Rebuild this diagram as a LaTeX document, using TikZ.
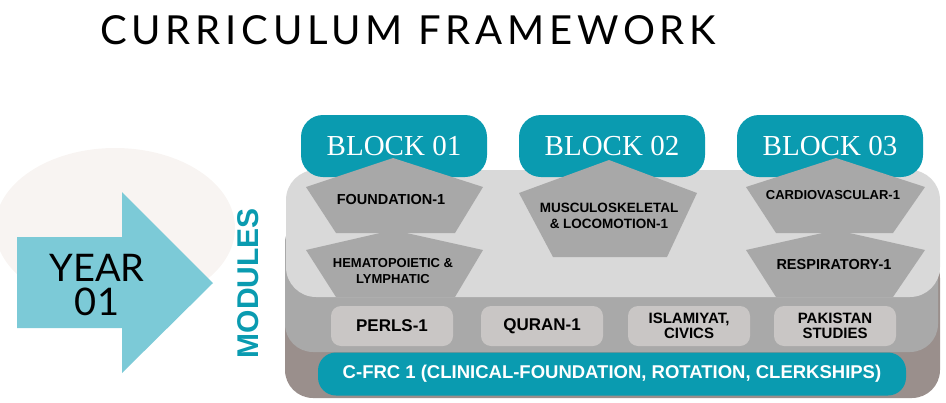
\documentclass[tikz,border=0pt]{standalone}
\usepackage{fontspec}
\setmainfont{Liberation Sans}
\newfontfamily\thinfont{Lato}
\newfontfamily\titlefont[LetterSpace=12]{Lato}
\newfontfamily\blockfont{Liberation Serif}
\usetikzlibrary{positioning}
\definecolor{teal1}{HTML}{0A9BB0}
\definecolor{arrowblue}{HTML}{7CCAD7}
\definecolor{lightgr}{HTML}{D9D9D9}
\definecolor{midgr}{HTML}{A9A9A9}
\definecolor{taupe}{HTML}{9A8F8C}
\definecolor{boxgr}{HTML}{C9C6C5}
\definecolor{pentgr}{HTML}{A8A8A8}
\definecolor{blush}{HTML}{F8F4F2}
\tikzset{
    block/.style={fill=teal1, rounded corners=22pt, minimum width=186pt, minimum height=62pt,
        text=white, font=\blockfont\fontsize{29}{29}\selectfont},
    subject/.style={fill=boxgr, rounded corners=10pt, minimum width=122pt, minimum height=40pt,
        align=center, inner sep=1pt, font=\bfseries\fontsize{17}{17}\selectfont},
    modlabel/.style={align=center, inner sep=1pt, font=\bfseries\fontsize{14.5}{16}\selectfont}
}
\begin{document}
\begin{tikzpicture}[x=1pt,y=-1pt]
\useasboundingbox (0,0) rectangle (946,402);

% title
\node (title) at (408,30) {\titlefont\fontsize{40}{40}\selectfont CURRICULUM FRAMEWORK};

% year arrow
\fill[blush] (115,228) ellipse [x radius=120, y radius=80];
\fill[arrowblue] (17,237) -- (122,237) -- (122,192) -- (213,283) -- (122,373) -- (122,328) -- (17,328) -- cycle;
\node[inner sep=0pt, font=\thinfont\fontsize{38}{38}\selectfont] (year) at (97,268) {YEAR};
\node[inner sep=0pt, font=\thinfont\fontsize{38}{38}\selectfont] (yearnum) at (97,302) {01};
\node[rotate=90, text=teal1, font=\bfseries\fontsize{30}{30}\selectfont] (modules) at (248,283) {MODULES};

% layers
\fill[taupe, rounded corners=28pt] (285,250) rectangle (940,398);
\fill[midgr, rounded corners=28pt] (285,215) rectangle (938,352);
\fill[lightgr, rounded corners=30pt] (286,170) rectangle (940,297);

% blocks
\node[block] (b1) at (394,146) {BLOCK 01};
\node[block] (b2) at (612,146) {BLOCK 02};
\node[block] (b3) at (830,146) {BLOCK 03};

% modules
\fill[pentgr] (393,158) -- (483,187) -- (455,233) -- (336,233) -- (306,187) -- cycle;
\fill[pentgr] (393,230) -- (483,250) -- (455,297) -- (336,297) -- (306,250) -- cycle;
\fill[pentgr] (609,160) -- (697,193) -- (667,257) -- (553,257) -- (519,193) -- cycle;
\fill[pentgr] (836,158) -- (925,187) -- (893,233) -- (776,233) -- (746,187) -- cycle;
\fill[pentgr] (836,230) -- (925,250) -- (893,297) -- (776,297) -- (746,250) -- cycle;
\node[modlabel] (found) at (391,200) {FOUNDATION-1};
\node[modlabel, font=\bfseries\fontsize{13}{16}\selectfont] (hema) at (393,271) {HEMATOPOIETIC \&\\LYMPHATIC};
\node[modlabel, font=\bfseries\fontsize{13.5}{16}\selectfont] (musc) at (609,216) {MUSCULOSKELETAL\\\& LOCOMOTION-1};
\node[modlabel, font=\bfseries\fontsize{13}{16}\selectfont] (cardio) at (833,195) {CARDIOVASCULAR-1};
\node[modlabel] (resp) at (834,265) {RESPIRATORY-1};

% subjects
\node[subject] (perls) at (392,326) {PERLS-1};
\node[subject] (quran) at (542,326) {QURAN-1};
\node[subject, font=\bfseries\fontsize{15}{15}\selectfont] (islam) at (689,326) {ISLAMIYAT,\\CIVICS};
\node[subject, font=\bfseries\fontsize{15}{15}\selectfont] (pak) at (835,326) {PAKISTAN\\STUDIES};

% clinical
\node[fill=teal1, rounded corners=18pt, minimum width=588pt, minimum height=43pt, text=white,
    font=\bfseries\fontsize{18.5}{18.5}\selectfont] (cfrc) at (612,374) {C-FRC 1 (CLINICAL-FOUNDATION, ROTATION, CLERKSHIPS)};
\end{tikzpicture}
\end{document}
